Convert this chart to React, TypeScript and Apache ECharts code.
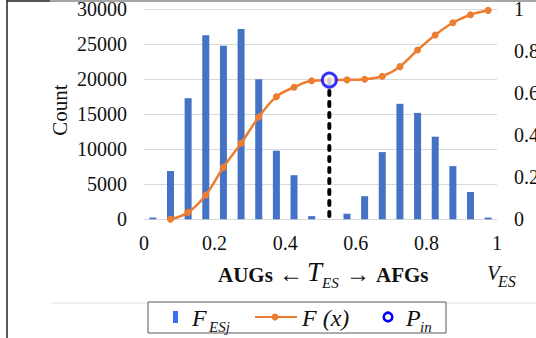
import React, { useEffect, useRef } from "react";
import * as echarts from "echarts";

const FONT = "Liberation Serif";

// Histogram bins (bin centres on V_ES) and their counts
const binCenters = [0.025, 0.075, 0.125, 0.175, 0.225, 0.275, 0.325, 0.375, 0.425, 0.475, 0.525, 0.575, 0.625, 0.675, 0.725, 0.775, 0.825, 0.875, 0.925, 0.975];
const counts = [250, 6900, 17300, 26300, 24800, 27200, 20000, 9800, 6300, 450, 0, 800, 3300, 9600, 16500, 15200, 11800, 7600, 3900, 250];

// Cumulative curve F(x)
const cdfX = [0.075, 0.125, 0.175, 0.225, 0.275, 0.325, 0.375, 0.425, 0.475, 0.525, 0.575, 0.625, 0.675, 0.725, 0.775, 0.825, 0.875, 0.925, 0.975];
const cdfY = [0, 0.033, 0.116, 0.248, 0.362, 0.487, 0.584, 0.629, 0.66, 0.663, 0.664, 0.667, 0.681, 0.727, 0.806, 0.878, 0.936, 0.974, 0.995];

// Inflection point P_in
const pIn = [0.525, 0.663];

function txt(x: number, y: number, text: string, size: number, extra: any = {}) {
  return {
    type: "text",
    x,
    y,
    z: 10,
    style: {
      text,
      fontFamily: FONT,
      fontSize: size,
      fill: "#111",
      align: "left",
      verticalAlign: "middle",
      textAlign: "left",
      textVerticalAlign: "middle",
      ...extra,
    },
  };
}

export default function App() {
  const ref = useRef<HTMLDivElement>(null);
  useEffect(() => {
    const chart = echarts.init(ref.current!, undefined, { renderer: "svg" });
    const labelStyle = { fontFamily: FONT, fontSize: 20, color: "#111" };
    chart.setOption({
      animation: false,
      backgroundColor: "#fff",
      textStyle: { fontFamily: FONT },
      grid: { left: 144, right: 39, top: 9.3, bottom: 118.7, containLabel: false, outerBoundsMode: "none" },
      xAxis: {
        type: "value",
        min: 0,
        max: 1,
        interval: 0.2,
        axisLine: { show: false },
        axisTick: { show: false },
        splitLine: { show: false },
        axisLabel: { ...labelStyle, margin: 14, formatter: (v: number) => String(Math.round(v * 10) / 10) },
      },
      yAxis: [
        {
          type: "value",
          min: 0,
          max: 30000,
          interval: 5000,
          axisLine: { show: false },
          axisTick: { show: false },
          splitLine: { show: true, lineStyle: { color: "#d9d9d9", width: 1.2 } },
          axisLabel: { ...labelStyle, margin: 17, formatter: (v: number) => String(v) },
        },
        {
          type: "value",
          min: 0,
          max: 1,
          interval: 0.2,
          position: "right",
          axisLine: { show: false },
          axisTick: { show: false },
          splitLine: { show: false },
          axisLabel: { ...labelStyle, margin: 17, formatter: (v: number) => String(Math.round(v * 10) / 10) },
        },
      ],
      series: [
        {
          type: "bar",
          name: "F_ESj",
          yAxisIndex: 0,
          barWidth: 7,
          itemStyle: { color: "#4472C4" },
          data: binCenters.map((x, i) => [x, counts[i]]),
          z: 2,
        },
        {
          type: "line",
          name: "F(x)",
          yAxisIndex: 1,
          smooth: 0.35,
          symbol: "circle",
          symbolSize: 7,
          lineStyle: { color: "#ED7D31", width: 2.5 },
          itemStyle: { color: "#ED7D31" },
          data: cdfX.map((x, i) => [x, cdfY[i]]),
          z: 3,
        },
        {
          type: "line",
          yAxisIndex: 1,
          symbol: "none",
          lineStyle: { color: "#000", width: 4, type: [4, 7], cap: "round" },
          data: [pIn, [pIn[0], 0]],
          z: 4,
        },
        {
          type: "scatter",
          name: "P_in",
          yAxisIndex: 1,
          symbol: "circle",
          symbolSize: 14,
          itemStyle: { color: "#fff", borderColor: "#0000FF", borderWidth: 3 },
          data: [pIn],
          z: 5,
        },
      ],
      graphic: [
        // frame
        { type: "line", shape: { x1: 7, y1: 1, x2: 536, y2: 1 }, style: { stroke: "#a6a6a6", lineWidth: 2 } },
        { type: "line", shape: { x1: 7, y1: 1, x2: 50, y2: 1 }, style: { stroke: "#555", lineWidth: 2 } },
        { type: "line", shape: { x1: 7, y1: 0, x2: 7, y2: 338 }, style: { stroke: "#222", lineWidth: 1.5 } },
        { type: "line", shape: { x1: 51, y1: 303, x2: 536, y2: 303 }, style: { stroke: "#e3e3e3", lineWidth: 1 } },
        // y-axis title
        {
          type: "text",
          x: 60,
          y: 110,
          rotation: Math.PI / 2,
          style: {
            text: "Count",
            fontFamily: FONT,
            fontSize: 21,
            fill: "#111",
            align: "center",
            verticalAlign: "middle",
            textAlign: "center",
            textVerticalAlign: "middle",
          },
        },
        // x-axis title
        txt(218, 274.5, "AUGs", 21, { fontWeight: "bold" }),
        txt(279, 274, "\u2190", 24),
        txt(307, 271.5, "T", 27, { fontStyle: "italic" }),
        txt(322, 283, "ES", 15, { fontStyle: "italic" }),
        txt(346, 274, "\u2192", 24),
        txt(376, 274.5, "AFGs", 21, { fontWeight: "bold" }),
        txt(487, 273, "V", 21, { fontStyle: "italic" }),
        txt(498, 281, "ES", 16, { fontStyle: "italic" }),
        // legend
        { type: "rect", shape: { x: 148, y: 302, width: 298, height: 31 }, style: { fill: "#fff", stroke: "#595959", lineWidth: 1 }, z: 5 },
        { type: "rect", shape: { x: 173, y: 311, width: 5, height: 12 }, style: { fill: "#3d6ef0" }, z: 10 },
        txt(192, 318, "F", 24, { fontStyle: "italic" }),
        txt(209, 326.5, "ESj", 15, { fontStyle: "italic" }),
        { type: "line", shape: { x1: 255, y1: 317, x2: 297, y2: 317 }, style: { stroke: "#ED7D31", lineWidth: 2 }, z: 10 },
        { type: "circle", shape: { cx: 275, cy: 317, r: 3.5 }, style: { fill: "#ED7D31" }, z: 10 },
        txt(302, 318, "F (x)", 24, { fontStyle: "italic" }),
        { type: "circle", shape: { cx: 388, cy: 317, r: 4.3 }, style: { fill: "#fff", stroke: "#0000FF", lineWidth: 2.6 }, z: 10 },
        txt(406, 318, "P", 24, { fontStyle: "italic" }),
        txt(420, 326.5, "in", 15, { fontStyle: "italic" }),
      ],
    });
    return () => chart.dispose();
  }, []);
  return <div ref={ref} style={{ position: "fixed", left: 0, top: 0, width: 536, height: 338 }} />;
}
